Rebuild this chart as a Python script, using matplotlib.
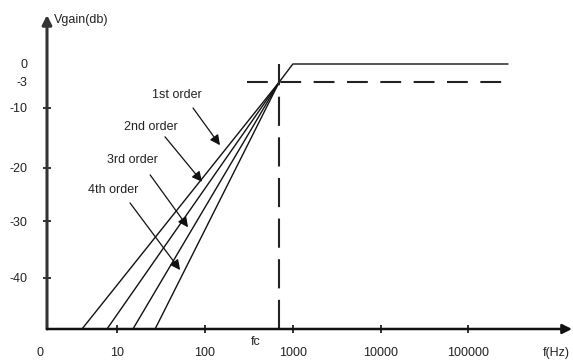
import numpy as np
import matplotlib.pyplot as plt
from matplotlib.ticker import NullLocator

plt.rcParams['font.family'] = ['Liberation Sans', 'DejaVu Sans']

# corner frequency, all slopes meet here
fc = 700
fc_gain = -3
# where the 1st..4th order slopes hit the bottom of the plot
start_freqs = [3.97, 7.65, 15.1, 27.0]
bottom_gain = -49
pass_start = 1000
pass_end = 2.8e5
pass_gain = 0
half_start = 300

y_ticks = [0, -3, -10, -20, -30, -40]
y_labels = ['0', '-3', '-10', '-20', '-30', '-40']
x_ticks = [10, 100, 1000, 10000, 100000]
x_labels = ['10', '100', '1000', '10000', '100000']

order_labels = ['1st order', '2nd order', '3rd order', '4th order']
label_pos = [(48, -6.5), (24.3, -13.2), (14.8, -18.7), (9.0, -24.1)]
arrow_tail = [(73, -10), (35, -14.8), (23.7, -21.3), (14, -26.6)]
arrow_tip = [(148, -16.2), (92.5, -22.6), (64, -31.1), (52, -38.6)]

# the drawing is a sketch, the dB axis is not evenly spaced
db_knots = [-49, -40, -30, -20, -10, -3, 0, 9]
pos_knots = [0, 51, 108, 161, 221, 247, 265, 314]


def fwd(y):
    return np.interp(y, db_knots, pos_knots)


def inv(p):
    return np.interp(p, pos_knots, db_knots)


fs = 9
tc = '#222'

fig = plt.figure(figsize=(5.73, 3.62), dpi=100)
ax = fig.add_axes([47 / 573, 33 / 362, 525 / 573, 314 / 362])
ax.set_xscale('log')
ax.set_yscale('function', functions=(fwd, inv))
ax.set_xlim(1.586, 1.51e6)
ax.set_ylim(-49, 9)

for sp in ax.spines.values():
    sp.set_visible(False)

# slopes
for i, f0 in enumerate(start_freqs):
    if i == 0:
        xs = [f0, fc, pass_start, pass_end]
        ys = [bottom_gain, fc_gain, pass_gain, pass_gain]
    else:
        xs = [f0, fc]
        ys = [bottom_gain, fc_gain]
    ax.plot(xs, ys, color='#111', lw=1.0)

# -3 dB and fc guides
ax.plot([half_start, pass_end], [fc_gain, fc_gain], color='#222', lw=1.5,
        dashes=(10, 6))
ax.plot([fc, fc], [bottom_gain, pass_gain], color='#222', lw=1.5,
        dashes=(14, 5.5))

for lab, lp, t0, t1 in zip(order_labels, label_pos, arrow_tail, arrow_tip):
    ax.text(lp[0], lp[1], lab, fontsize=fs, color=tc, ha='center', va='center')
    ax.annotate('', xy=t1, xytext=t0,
                arrowprops=dict(arrowstyle='-|>', color='#111', lw=0.9,
                                mutation_scale=15, shrinkA=0, shrinkB=0))

# axes with arrow heads
ax.annotate('', xy=(0, 1), xytext=(0, 0), xycoords='axes fraction',
            arrowprops=dict(arrowstyle='-|>', color='#333', lw=2.2,
                            mutation_scale=14, shrinkA=0, shrinkB=0),
            annotation_clip=False)
ax.annotate('', xy=(1, 0), xytext=(0, 0), xycoords='axes fraction',
            arrowprops=dict(arrowstyle='-|>', color='#111', lw=1.8,
                            mutation_scale=14, shrinkA=0, shrinkB=0),
            annotation_clip=False)

ax.set_xticks(x_ticks)
ax.set_xticklabels(x_labels)
ax.set_yticks(y_ticks)
ax.set_yticklabels(y_labels)
ax.xaxis.set_minor_locator(NullLocator())
ax.yaxis.set_minor_locator(NullLocator())
ax.tick_params(axis='both', direction='inout', length=6, width=1.3,
               color='#222', labelsize=fs, labelcolor=tc)
ax.tick_params(axis='x', pad=10)
ax.tick_params(axis='y', pad=11)
for t in ax.yaxis.get_major_ticks()[:2]:
    t.tick1line.set_visible(False)

ax.annotate('0', xy=(0, 0), xycoords='axes fraction', xytext=(-7, -24),
            textcoords='offset pixels', fontsize=fs, color=tc,
            ha='center', va='center', annotation_clip=False)
ax.annotate('fc', xy=(fc, bottom_gain), xytext=(-24, -13),
            textcoords='offset pixels', fontsize=fs, color=tc,
            ha='center', va='center', annotation_clip=False)
ax.annotate('f(Hz)', xy=(1, 0), xycoords='axes fraction', xytext=(-16, -24),
            textcoords='offset pixels', fontsize=fs, color=tc,
            ha='center', va='center', annotation_clip=False)
ax.annotate('Vgain(db)', xy=(0, 1), xycoords='axes fraction', xytext=(7, -5),
            textcoords='offset pixels', fontsize=fs, color=tc,
            ha='left', va='center', annotation_clip=False)

fig.savefig('out.png', dpi=100)
